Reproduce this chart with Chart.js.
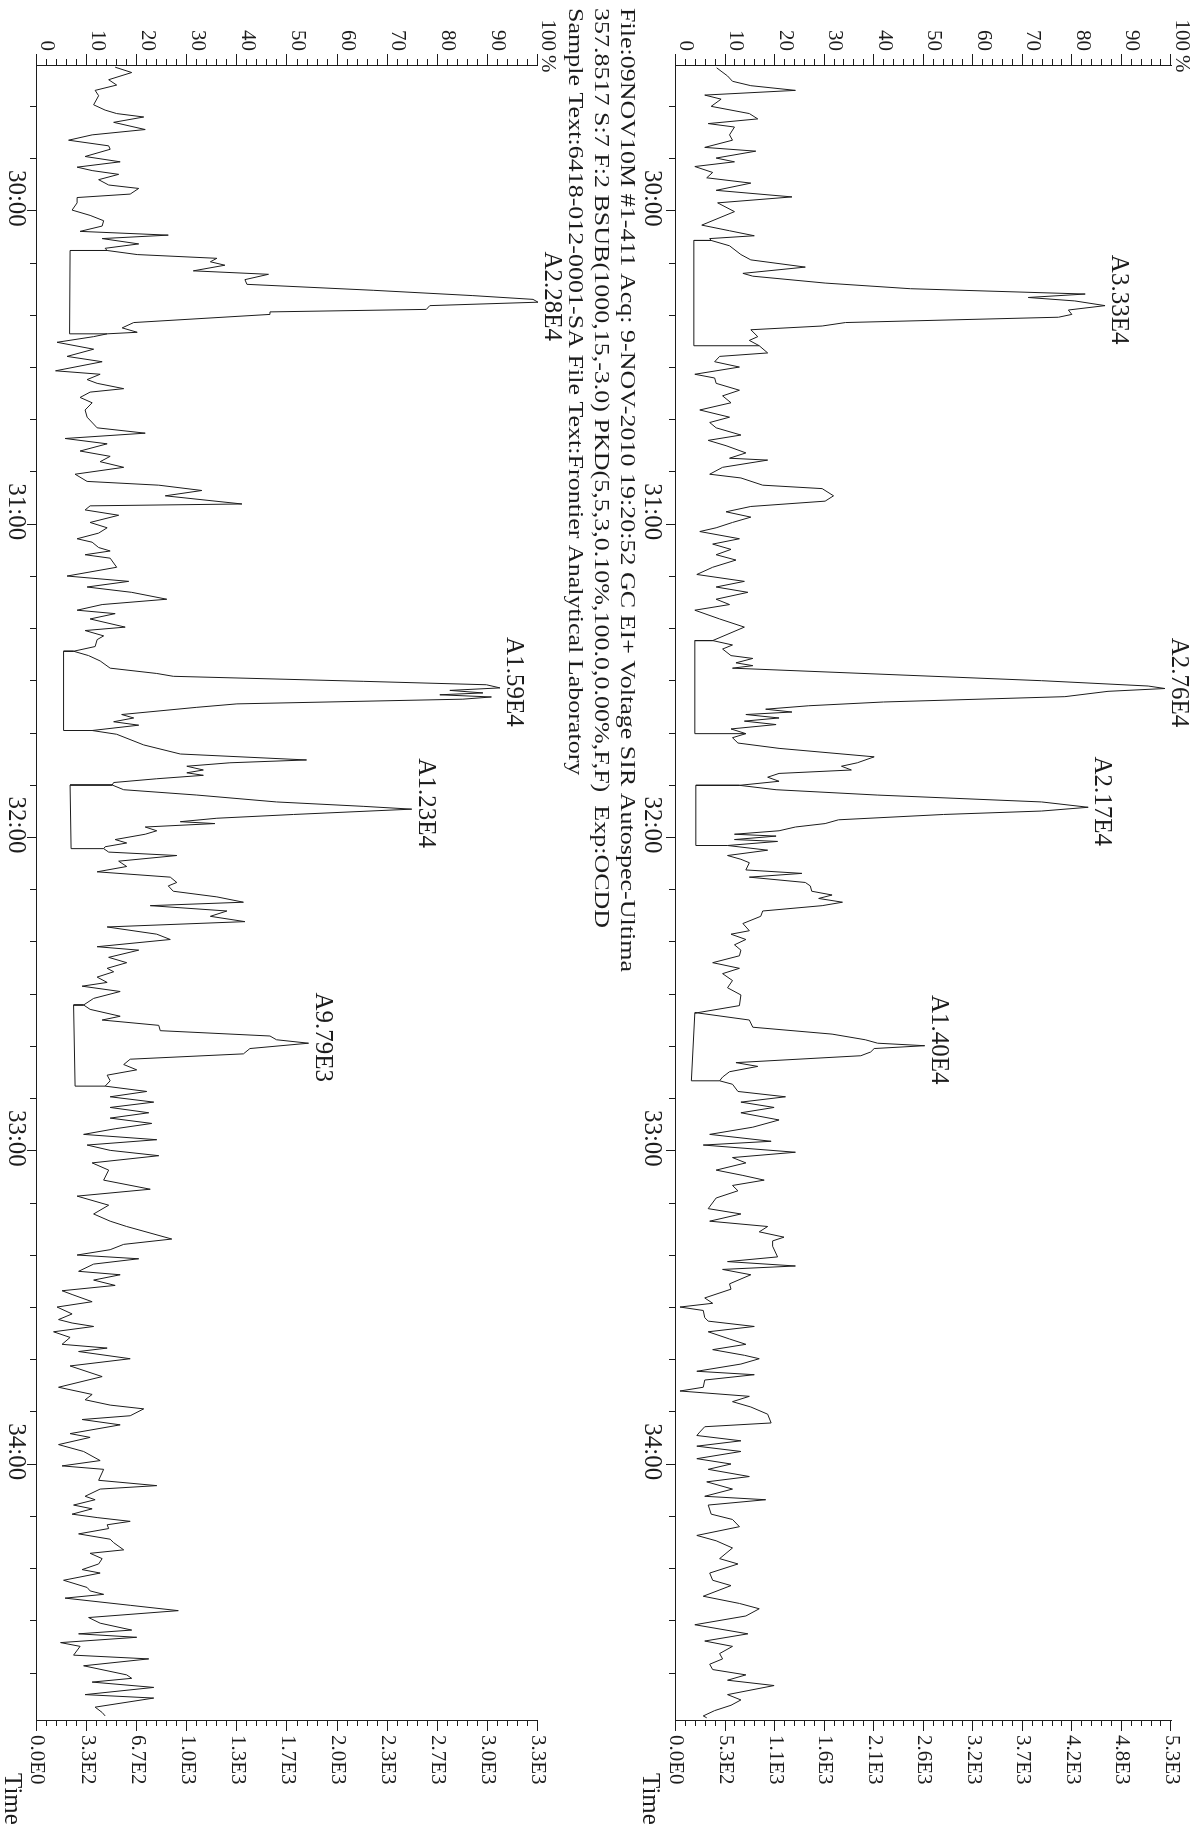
<!DOCTYPE html>
<html>
<head>
<meta charset="utf-8">
<title>SIR 357.8517 - OCDD</title>
<script src="https://cdn.jsdelivr.net/npm/chart.js@4.4.1/dist/chart.umd.min.js"></script>
<style>
  html, body { margin: 0; padding: 0; background: #fff; width: 1199px; height: 1832px; overflow: hidden; }
  /* the printout is a landscape page turned a quarter turn clockwise */
  #page { position: absolute; left: 0; top: 0; width: 1832px; height: 1199px; transform-origin: 0 0; transform: translateX(1199px) rotate(90deg); }
  canvas { position: absolute; left: 0; }
  #upper { top: 0; }
  #lower { top: 560px; }
</style>
</head>
<body>
<div id="page">
  <canvas id="upper" width="1832" height="560"></canvas>
  <canvas id="lower" width="1832" height="639"></canvas>
</div>
<script>
// Time axis (minutes) and tick labels
const timeMin = 29.536;
const timeMax = 34.818;
const minuteTicks = [30, 31, 32, 33, 34];
const percentTicks = [0, 10, 20, 30, 40, 50, 60, 70, 80, 90, 100];

// full scale counts of the right hand axes
const upperFullScale = 5285;
const lowerFullScale = 3335;

const headerLines = [
  "File:09NOV10M #1-411 Acq: 9-NOV-2010 19:20:52 GC EI+ Voltage SIR Autospec-Ultima",
  "357.8517 S:7 F:2 BSUB(1000,15,-3.0) PKD(5,5,3,0.10%,100.0,0.00%,F,F)  Exp:OCDD",
  "Sample Text:6418-012-0001-SA File Text:Frontier Analytical Laboratory"
];

// upper trace: retention time (min) / relative intensity (%)
const upperTimes = [
  29.545, 29.571, 29.588, 29.602, 29.617, 29.632, 29.645, 29.668, 29.691, 29.708,
  29.723, 29.734, 29.759, 29.776, 29.799, 29.811, 29.833, 29.845, 29.860, 29.879,
  29.896, 29.913, 29.936, 29.957, 29.976, 30.004, 30.047, 30.065, 30.081, 30.090,
  30.096, 30.113, 30.141, 30.158, 30.181, 30.201, 30.210, 30.232, 30.250, 30.267,
  30.278, 30.289, 30.304, 30.318, 30.332, 30.341, 30.358, 30.369, 30.381, 30.403,
  30.415, 30.432, 30.455, 30.466, 30.483, 30.500, 30.523, 30.535, 30.552, 30.574,
  30.592, 30.614, 30.637, 30.660, 30.677, 30.694, 30.717, 30.734, 30.751, 30.774,
  30.791, 30.797, 30.820, 30.842, 30.854, 30.877, 30.888, 30.911, 30.928, 30.945,
  30.962, 30.979, 30.996, 31.013, 31.025, 31.048, 31.065, 31.082, 31.099, 31.116,
  31.139, 31.162, 31.184, 31.202, 31.219, 31.241, 31.258, 31.276, 31.304, 31.330,
  31.373, 31.387, 31.400, 31.421, 31.430, 31.444, 31.453, 31.461, 31.501, 31.518,
  31.526, 31.535, 31.552, 31.569, 31.581, 31.592, 31.601, 31.609, 31.620, 31.630,
  31.641, 31.655, 31.670, 31.683, 31.700, 31.717, 31.744, 31.763, 31.774, 31.786,
  31.797, 31.809, 31.822, 31.835, 31.849, 31.866, 31.888, 31.905, 31.917, 31.928,
  31.945, 31.957, 31.968, 31.980, 31.991, 31.997, 32.008, 32.014, 32.027, 32.042,
  32.059, 32.071, 32.082, 32.105, 32.116, 32.128, 32.145, 32.156, 32.173, 32.185,
  32.196, 32.208, 32.219, 32.236, 32.253, 32.276, 32.299, 32.310, 32.327, 32.344,
  32.361, 32.379, 32.401, 32.419, 32.436, 32.458, 32.481, 32.504, 32.538, 32.561,
  32.584, 32.607, 32.629, 32.647, 32.658, 32.666, 32.675, 32.686, 32.698, 32.720,
  32.732, 32.749, 32.766, 32.778, 32.789, 32.812, 32.829, 32.846, 32.863, 32.880,
  32.903, 32.926, 32.949, 32.971, 32.983, 33.006, 33.023, 33.040, 33.063, 33.080,
  33.095, 33.112, 33.129, 33.152, 33.186, 33.203, 33.226, 33.243, 33.260, 33.277,
  33.289, 33.306, 33.340, 33.355, 33.369, 33.380, 33.397, 33.426, 33.443, 33.471,
  33.488, 33.500, 33.511, 33.534, 33.545, 33.562, 33.579, 33.602, 33.619, 33.636,
  33.654, 33.665, 33.682, 33.705, 33.716, 33.733, 33.756, 33.768, 33.785, 33.802,
  33.819, 33.842, 33.870, 33.882, 33.899, 33.910, 33.927, 33.944, 33.961, 33.984,
  34.001, 34.018, 34.041, 34.058, 34.081, 34.104, 34.115, 34.132, 34.161, 34.178,
  34.201, 34.229, 34.246, 34.269, 34.303, 34.320, 34.349, 34.372, 34.389, 34.423,
  34.446, 34.463, 34.486, 34.514, 34.543, 34.566, 34.583, 34.606, 34.623, 34.640,
  34.657, 34.674, 34.691, 34.708, 34.737, 34.754, 34.771, 34.788, 34.805, 34.811
];
const upperPct = [
  8.2, 10.4, 11.4, 15.1, 24.1, 5.8, 9.1, 7.1, 14.8, 16.5,
  6.5, 11.8, 10.8, 11.4, 5.8, 16.1, 8.1, 11.8, 3.8, 7.4,
  6.2, 15.1, 8.1, 23.4, 8.4, 11.8, 5.2, 10.8, 15.8, 6.8,
  7.1, 10.8, 13.1, 15.1, 26.1, 13.5, 15.5, 30.1, 47.3, 82.6,
  71.1, 80.5, 86.6, 79.2, 79.9, 77.2, 34.2, 29.5, 15.1, 16.5,
  14.8, 16.8, 18.5, 8.8, 7.8, 12.8, 3.8, 7.8, 8.1, 12.8,
  9.4, 11.1, 4.8, 10.8, 6.8, 8.1, 13.1, 6.5, 10.1, 14.1,
  10.8, 18.5, 9.4, 6.8, 13.1, 17.5, 29.5, 31.8, 30.1, 15.1,
  10.1, 15.1, 11.4, 8.1, 4.8, 12.8, 7.4, 11.1, 8.1, 12.1,
  7.4, 4.2, 13.8, 8.1, 14.5, 8.1, 10.8, 3.8, 8.8, 13.8,
  7.4, 11.4, 9.4, 11.1, 15.5, 12.1, 15.5, 11.4, 73.8, 95.3,
  98.7, 87.2, 78.5, 41.9, 26.8, 18.1, 23.4, 14.1, 20.8, 13.8,
  20.2, 11.1, 14.1, 11.4, 12.5, 20.8, 40.0, 36.6, 33.4, 35.4,
  20.8, 18.5, 20.8, 12.8, 20.2, 40.6, 73.8, 83.2, 73.8, 54.0,
  32.8, 30.1, 24.1, 20.8, 11.8, 20.2, 11.8, 20.5, 10.4, 18.5,
  10.4, 13.1, 14.8, 14.1, 25.4, 14.8, 26.1, 27.1, 27.4, 31.5,
  28.8, 33.6, 29.5, 17.5, 17.1, 13.5, 14.8, 11.1, 14.1, 11.8,
  13.1, 12.8, 7.4, 12.8, 9.4, 11.4, 10.4, 13.1, 12.8, 4.2,
  14.8, 15.5, 31.5, 38.2, 40.7, 50.2, 40.0, 39.3, 37.3, 12.1,
  16.5, 10.8, 9.4, 8.8, 11.4, 12.5, 22.1, 13.1, 19.8, 13.1,
  20.8, 15.5, 6.8, 19.2, 5.5, 24.1, 11.4, 14.1, 8.1, 13.5,
  17.8, 11.4, 12.5, 8.1, 6.5, 13.1, 6.8, 18.5, 16.8, 21.8,
  19.5, 19.5, 20.5, 10.4, 24.1, 9.4, 15.1, 10.8, 11.1, 5.8,
  7.4, 0.8, 5.5, 5.8, 6.5, 15.8, 6.5, 10.8, 14.1, 7.4,
  13.8, 16.8, 13.1, 4.2, 15.8, 5.8, 5.5, 0.8, 14.8, 11.4,
  15.1, 18.5, 19.2, 5.8, 4.8, 4.2, 13.1, 4.2, 13.1, 4.2,
  11.1, 6.5, 14.8, 6.2, 11.4, 5.8, 18.1, 6.5, 7.1, 11.4,
  12.8, 4.2, 8.1, 11.4, 8.8, 12.5, 6.8, 7.4, 11.1, 5.5,
  12.8, 16.8, 14.1, 3.8, 14.5, 5.8, 11.4, 8.8, 9.4, 6.8,
  7.4, 14.1, 10.4, 19.8, 10.4, 13.1, 11.1, 7.8, 5.5, 6.2
];
const upperPeakNames = ["A3.33E4", "A2.76E4", "A2.17E4", "A1.40E4"];
const upperPeakTimes = [30.304, 31.526, 31.905, 32.666];
// integrated peaks: [start, end, baseline % at start, baseline % at end]
const upperBoxes = [
  [30.096, 30.432, 3.6, 3.6],
  [31.373, 31.670, 3.8, 3.8],
  [31.835, 32.027, 4.0, 4.0],
  [32.561, 32.778, 3.8, 3.1]
];

// lower trace
const lowerTimes = [
  29.543, 29.560, 29.583, 29.600, 29.617, 29.634, 29.663, 29.680, 29.691, 29.702,
  29.719, 29.742, 29.759, 29.776, 29.794, 29.805, 29.828, 29.845, 29.862, 29.873,
  29.885, 29.902, 29.919, 29.930, 29.948, 29.959, 29.976, 29.999, 30.016, 30.033,
  30.050, 30.067, 30.079, 30.090, 30.107, 30.121, 30.128, 30.141, 30.153, 30.164,
  30.175, 30.193, 30.204, 30.221, 30.236, 30.255, 30.272, 30.284, 30.293, 30.304,
  30.316, 30.324, 30.332, 30.358, 30.375, 30.389, 30.394, 30.403, 30.421, 30.443,
  30.466, 30.483, 30.512, 30.523, 30.540, 30.552, 30.569, 30.580, 30.597, 30.614,
  30.637, 30.660, 30.694, 30.711, 30.728, 30.745, 30.768, 30.785, 30.802, 30.820,
  30.842, 30.865, 30.877, 30.894, 30.911, 30.937, 30.943, 30.956, 30.973, 30.996,
  31.013, 31.030, 31.048, 31.059, 31.076, 31.087, 31.099, 31.110, 31.139, 31.167,
  31.184, 31.202, 31.219, 31.241, 31.258, 31.276, 31.287, 31.304, 31.330, 31.341,
  31.358, 31.370, 31.392, 31.407, 31.421, 31.438, 31.461, 31.478, 31.487, 31.503,
  31.514, 31.524, 31.532, 31.540, 31.546, 31.553, 31.560, 31.575, 31.586, 31.609,
  31.620, 31.632, 31.643, 31.660, 31.672, 31.706, 31.735, 31.754, 31.763, 31.774,
  31.786, 31.795, 31.803, 31.814, 31.826, 31.834, 31.849, 31.866, 31.888, 31.902,
  31.911, 31.928, 31.940, 31.951, 31.957, 31.968, 31.980, 31.991, 32.008, 32.019,
  32.031, 32.037, 32.048, 32.059, 32.077, 32.094, 32.111, 32.128, 32.145, 32.156,
  32.173, 32.191, 32.208, 32.219, 32.236, 32.253, 32.270, 32.287, 32.310, 32.327,
  32.350, 32.361, 32.384, 32.401, 32.419, 32.430, 32.447, 32.464, 32.476, 32.493,
  32.515, 32.536, 32.550, 32.572, 32.584, 32.601, 32.618, 32.635, 32.647, 32.658,
  32.675, 32.692, 32.709, 32.726, 32.743, 32.760, 32.778, 32.795, 32.812, 32.829,
  32.846, 32.863, 32.880, 32.897, 32.914, 32.931, 32.949, 32.966, 32.983, 33.000,
  33.017, 33.040, 33.063, 33.095, 33.124, 33.146, 33.175, 33.203, 33.226, 33.243,
  33.283, 33.300, 33.317, 33.334, 33.346, 33.363, 33.386, 33.397, 33.414, 33.431,
  33.448, 33.460, 33.483, 33.500, 33.522, 33.540, 33.551, 33.562, 33.579, 33.597,
  33.619, 33.631, 33.642, 33.665, 33.688, 33.722, 33.756, 33.779, 33.796, 33.813,
  33.825, 33.847, 33.859, 33.876, 33.904, 33.916, 33.939, 33.961, 33.990, 34.007,
  34.018, 34.053, 34.070, 34.081, 34.104, 34.115, 34.132, 34.144, 34.161, 34.172,
  34.184, 34.195, 34.207, 34.224, 34.241, 34.252, 34.275, 34.286, 34.303, 34.320,
  34.338, 34.349, 34.372, 34.395, 34.406, 34.417, 34.429, 34.452, 34.469, 34.491,
  34.509, 34.531, 34.543, 34.554, 34.571, 34.583, 34.611, 34.623, 34.645, 34.674,
  34.685, 34.697, 34.714, 34.737, 34.748, 34.777, 34.794, 34.805
];
const lowerPct = [
  15.6, 18.9, 14.3, 15.9, 11.6, 12.3, 11.3, 13.6, 15.9, 21.3,
  15.3, 21.6, 11.0, 6.3, 14.3, 14.6, 9.6, 16.6, 8.0, 11.0,
  16.3, 12.3, 14.3, 20.3, 18.6, 8.0, 8.0, 7.0, 10.6, 13.3,
  13.0, 8.6, 26.2, 13.0, 20.3, 13.6, 14.0, 20.0, 35.9, 34.6,
  37.5, 31.2, 46.2, 41.5, 41.9, 67.1, 87.0, 99.0, 100, 78.4,
  77.7, 46.5, 46.5, 19.3, 17.0, 20.0, 14.0, 11.3, 4.0, 11.3,
  6.0, 13.0, 3.7, 12.6, 10.0, 12.0, 17.3, 10.6, 8.6, 11.0,
  9.6, 10.0, 12.0, 21.6, 5.6, 14.0, 8.6, 14.6, 12.6, 17.3,
  7.6, 10.0, 24.3, 32.9, 25.6, 40.9, 10.6, 9.6, 16.3, 10.6,
  14.0, 12.3, 8.0, 11.0, 12.3, 14.6, 9.6, 14.6, 15.9, 6.0,
  18.3, 10.0, 18.9, 25.9, 13.0, 8.0, 15.6, 10.6, 17.6, 9.6,
  13.3, 12.0, 11.6, 7.3, 10.3, 12.6, 14.6, 23.9, 27.2, 65.1,
  89.7, 92.4, 82.4, 89.0, 80.4, 90.7, 85.0, 39.9, 31.9, 16.9,
  19.3, 15.3, 20.3, 11.0, 15.9, 21.3, 28.6, 53.8, 38.5, 29.9,
  33.2, 29.9, 33.2, 23.9, 15.3, 15.0, 17.3, 31.9, 47.8, 65.1,
  74.8, 51.2, 35.9, 28.6, 35.5, 21.6, 23.9, 21.6, 15.6, 17.9,
  13.6, 13.3, 14.3, 27.9, 16.3, 17.9, 12.0, 26.6, 27.9, 26.2,
  27.2, 35.9, 41.2, 22.6, 37.9, 34.6, 41.5, 14.0, 23.9, 26.6,
  12.0, 20.3, 14.3, 17.9, 14.0, 15.3, 12.0, 14.0, 9.0, 16.6,
  11.3, 9.3, 10.6, 16.6, 13.0, 24.3, 24.6, 46.5, 47.8, 54.2,
  42.5, 41.2, 18.6, 17.3, 19.9, 14.0, 14.6, 13.6, 21.9, 14.6,
  23.3, 14.6, 22.3, 14.6, 22.9, 15.6, 9.3, 23.9, 10.0, 14.6,
  24.3, 11.0, 14.3, 13.3, 22.6, 8.0, 14.3, 11.3, 14.6, 17.9,
  26.9, 17.3, 14.6, 8.0, 20.3, 11.3, 8.3, 16.6, 11.3, 15.6,
  5.0, 7.0, 11.0, 4.0, 7.0, 4.3, 7.0, 11.3, 3.3, 6.6,
  5.0, 14.0, 8.3, 18.6, 6.6, 13.0, 4.3, 11.0, 9.6, 14.6,
  21.3, 18.6, 9.0, 16.6, 6.6, 10.6, 4.3, 9.3, 12.6, 5.0,
  13.3, 12.3, 23.9, 12.6, 9.6, 11.6, 7.3, 11.0, 7.0, 12.0,
  18.6, 14.0, 14.3, 8.3, 14.6, 15.3, 17.3, 10.6, 13.0, 12.3,
  9.0, 12.6, 5.3, 10.0, 10.6, 13.3, 5.6, 18.6, 28.2, 10.3,
  12.6, 18.9, 8.3, 19.9, 4.7, 8.6, 7.3, 22.3, 9.3, 17.9,
  18.9, 11.0, 23.3, 9.6, 23.3, 11.6, 13.0, 13.6
];
const lowerPeakNames = ["A2.28E4", "A1.59E4", "A1.23E4", "A9.79E3"];
const lowerPeakTimes = [30.293, 31.524, 31.911, 32.658];
const lowerBoxes = [
  [30.128, 30.394, 6.6, 6.5],
  [31.407, 31.660, 5.3, 5.3],
  [31.834, 32.037, 6.6, 6.8],
  [32.536, 32.795, 7.3, 7.6]
];

const serif = '"Liberation Serif", "Times New Roman", serif';
const ink = "#1c1c1c";

// value of a trace at time t (straight line between recorded points)
function valueAt(times, vals, t) {
  for (let i = 1; i < times.length; i++) {
    if (times[i] >= t) {
      const f = (t - times[i - 1]) / (times[i] - times[i - 1]);
      return vals[i - 1] + f * (vals[i] - vals[i - 1]);
    }
  }
  return vals[vals.length - 1];
}

// outline of the integrated areas, gaps between boxes
function boxPoints(boxes, times, vals) {
  const pts = [];
  boxes.forEach(b => {
    pts.push({ x: b[0], y: valueAt(times, vals, b[0]) });
    pts.push({ x: b[0], y: b[2] });
    pts.push({ x: b[1], y: b[3] });
    pts.push({ x: b[1], y: valueAt(times, vals, b[1]) });
    pts.push({ x: b[1], y: null });
  });
  return pts;
}

// tick marks, % sign, peak areas, "Time" and header text
const panelDecor = {
  id: "panelDecor",
  afterDraw(chart, args, o) {
    const ctx = chart.ctx;
    const a = chart.chartArea;
    const xs = chart.scales.x;
    const ys = chart.scales.y;
    ctx.save();
    ctx.strokeStyle = ink;
    ctx.lineWidth = 1;
    ctx.beginPath();
    for (let i = Math.ceil(timeMin * 6); i <= Math.floor(timeMax * 6); i++) {
      const px = Math.round(xs.getPixelForValue(i / 6)) + 0.5;
      ctx.moveTo(px, a.bottom);
      ctx.lineTo(px, a.bottom + (i % 6 === 0 ? 10 : 7));
    }
    for (let p = 0; p <= 100; p += 2) {
      const py = Math.round(ys.getPixelForValue(p)) + 0.5;
      const len = p % 10 === 0 ? 11 : 6;
      ctx.moveTo(a.left - len, py);
      ctx.lineTo(a.left, py);
      ctx.moveTo(a.right, py);
      ctx.lineTo(a.right + len, py);
    }
    ctx.stroke();

    ctx.fillStyle = ink;
    ctx.textAlign = "left";
    ctx.textBaseline = "middle";
    ctx.font = "21px " + serif;
    ctx.fillText("%", a.left - 10, ys.getPixelForValue(100) - 10);
    ctx.font = "25px " + serif;
    ctx.fillText("Time", a.right + 53, o.timeTitleY);

    ctx.textAlign = "center";
    ctx.textBaseline = "alphabetic";
    o.peakNames.forEach((name, i) => {
      const t = o.peakTimes[i];
      const v = Math.min(100, valueAt(o.times, o.vals, t));
      ctx.fillText(name, xs.getPixelForValue(t) - 6, ys.getPixelForValue(v) - 7);
    });

    if (o.header) {
      ctx.textAlign = "left";
      ctx.font = "20px " + serif;
      const sx = 964 / ctx.measureText(o.header[0]).width;
      o.header.forEach((line, i) => {
        ctx.save();
        ctx.translate(8, o.headerBaselines[i]);
        ctx.scale(sx, 1);
        ctx.fillText(line, 0, 0);
        ctx.restore();
      });
    }
    ctx.restore();
  }
};

function makePanel(id, times, vals, peakNames, peakTimes, boxes, fullScale, cfg) {
  const axisFont = size => ({ family: serif, size: size });
  return new Chart(document.getElementById(id), {
    type: "scatter",
    data: {
      datasets: [{
        data: times.map((t, i) => ({ x: t, y: vals[i] })),
        showLine: true,
        borderColor: ink,
        borderWidth: 1,
        pointRadius: 0,
        tension: 0
      }, {
        data: boxPoints(boxes, times, vals),
        showLine: true,
        spanGaps: false,
        borderColor: ink,
        borderWidth: 1,
        pointRadius: 0
      }]
    },
    options: {
      responsive: false,
      animation: false,
      devicePixelRatio: 1,
      layout: { padding: { top: cfg.padTop, left: 0, right: 0, bottom: 0 } },
      plugins: {
        legend: { display: false },
        tooltip: { enabled: false },
        panelDecor: {
          times: times, vals: vals, peakNames: peakNames, peakTimes: peakTimes,
          timeTitleY: cfg.timeTitleY, header: cfg.header, headerBaselines: cfg.headerBaselines
        }
      },
      scales: {
        x: {
          type: "linear",
          position: "bottom",
          min: timeMin,
          max: timeMax,
          grid: { display: false, drawTicks: false },
          border: { display: true, color: ink, width: 1 },
          afterBuildTicks: s => { s.ticks = minuteTicks.map(v => ({ value: v })); },
          afterFit: s => { s.height = 37; },
          ticks: {
            autoSkip: false, maxRotation: 0, minRotation: 0,
            padding: cfg.timeLabelPad, labelOffset: -12,
            color: ink, font: axisFont(25),
            callback: v => v + ":00"
          }
        },
        y: {
          type: "linear",
          position: "left",
          min: 0,
          max: 100,
          grid: { display: false, drawTicks: false },
          border: { display: true, color: ink, width: 1 },
          afterBuildTicks: s => { s.ticks = percentTicks.map(v => ({ value: v })); },
          afterFit: s => { s.width = 65; },
          ticks: {
            autoSkip: false, padding: 14, labelOffset: -10,
            color: ink, font: axisFont(21),
            callback: v => String(v)
          }
        },
        y2: {
          type: "linear",
          position: "right",
          min: 0,
          max: fullScale,
          grid: { display: false, drawTicks: false },
          border: { display: true, color: ink, width: 1 },
          afterBuildTicks: s => { s.ticks = percentTicks.map(p => ({ value: fullScale * p / 100 })); },
          afterFit: s => { s.width = 112; },
          ticks: {
            autoSkip: false, padding: 15,
            color: ink, font: axisFont(21),
            callback: v => v.toExponential(1).replace("e+", "E").replace("e-", "E-")
          }
        }
      }
    },
    plugins: [panelDecor]
  });
}

makePanel("upper", upperTimes, upperPct, upperPeakNames, upperPeakTimes, upperBoxes, upperFullScale, {
  padTop: 22, timeLabelPad: 9, timeTitleY: 549
});
makePanel("lower", lowerTimes, lowerPct, lowerPeakNames, lowerPeakTimes, lowerBoxes, lowerFullScale, {
  padTop: 101, timeLabelPad: 6, timeTitleY: 627,
  header: headerLines, headerBaselines: [18, 44, 70]
});
</script>
</body>
</html>
